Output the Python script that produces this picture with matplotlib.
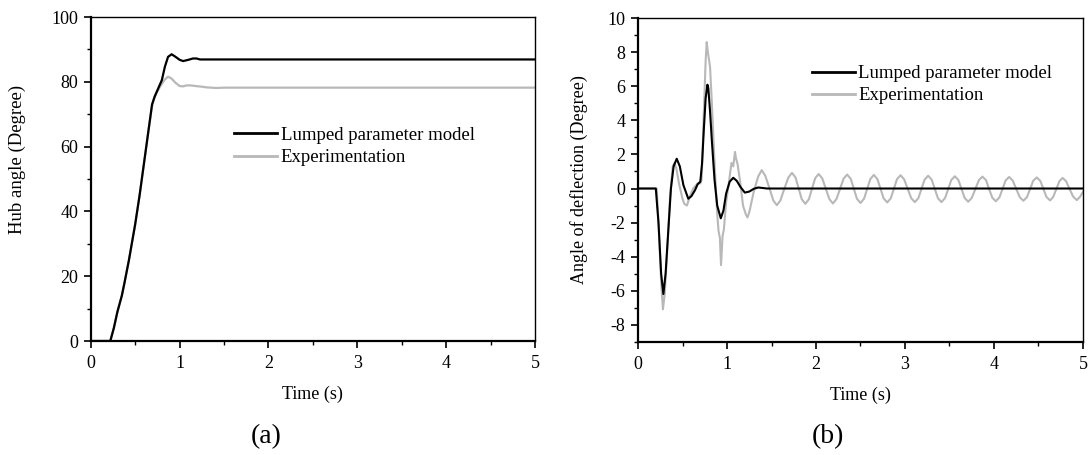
import matplotlib
matplotlib.use("Agg")
import matplotlib.pyplot as plt
from matplotlib.ticker import MultipleLocator
from matplotlib.lines import Line2D

plt.rcParams['font.family'] = ['Liberation Serif', 'DejaVu Serif']
plt.rcParams['axes.unicode_minus'] = False

# ---------------- data: (a) hub angle ----------------
t_hub_model = [0, 0.22, 0.26, 0.30, 0.35, 0.38, 0.43, 0.50, 0.55, 0.60, 0.65, 0.69, 0.72,
               0.76, 0.80, 0.835, 0.87, 0.91, 0.95, 1.00, 1.04, 1.10, 1.15, 1.19, 1.23, 1.30, 5.0]
hub_model = [0, 0, 4, 9, 14, 18, 25, 36, 45, 55, 65, 73, 75.5,
             78, 80.5, 84.7, 87.7, 88.5, 87.8, 86.8, 86.4, 86.8, 87.2, 87.2, 86.9, 86.9, 86.9]

t_hub_exp = [0, 0.22, 0.26, 0.30, 0.35, 0.38, 0.43, 0.50, 0.55, 0.60, 0.65, 0.69, 0.71, 0.74,
             0.78, 0.83, 0.87, 0.91, 0.95, 1.00, 1.04, 1.08, 1.12, 1.18, 1.25, 1.30, 1.41, 1.5, 5.0]
hub_exp = [0, 0, 4, 9, 14, 18, 25, 36, 45, 55, 65, 72.5, 74.6, 76.5,
           78.5, 80.6, 81.6, 81.0, 79.8, 78.7, 78.6, 78.9, 78.9, 78.7, 78.5, 78.3, 78.1, 78.2, 78.2]

# ---------------- data: (b) angle of deflection ----------------
t_defl_model = [0, 0.20, 0.23, 0.26, 0.285, 0.31, 0.34, 0.37, 0.40, 0.435, 0.47, 0.51, 0.565,
                0.60, 0.64, 0.67, 0.70, 0.72, 0.74, 0.76, 0.78, 0.79, 0.81, 0.83, 0.86, 0.89,
                0.93, 0.96, 0.99, 1.03, 1.07, 1.11, 1.15, 1.20, 1.25, 1.30, 1.35, 1.45, 5.0]
defl_model = [0, 0, -2, -5, -6.2, -5, -2.5, 0, 1.3, 1.75, 1.3, 0.2, -0.6,
              -0.45, -0.1, 0.25, 0.4, 1.5, 3.5, 5.3, 6.1, 5.9, 4.5, 2.8, 0.5, -1.0,
              -1.75, -1.3, -0.3, 0.4, 0.63, 0.45, 0.1, -0.24, -0.18, -0.02, 0.06, 0.0, 0.0]

t_defl_exp = [0, 0.21, 0.235, 0.26, 0.28, 0.30, 0.33, 0.36, 0.39, 0.41, 0.43, 0.46, 0.50, 0.52,
              0.55, 0.58, 0.62, 0.67, 0.70, 0.715, 0.74, 0.76, 0.772, 0.785, 0.80, 0.81, 0.83,
              0.86, 0.89, 0.905, 0.92, 0.933, 0.95, 0.965, 0.99, 1.02, 1.05, 1.07, 1.09, 1.10,
              1.12, 1.15, 1.18, 1.21, 1.23, 1.25, 1.30, 1.35,
              1.39, 1.43, 1.475, 1.52, 1.56, 1.60, 1.645, 1.69, 1.73, 1.77, 1.805, 1.84,
              1.88, 1.92, 1.955, 1.99, 2.03, 2.07, 2.11, 2.15, 2.19, 2.23, 2.27, 2.31,
              2.35, 2.39, 2.425, 2.46, 2.50, 2.54, 2.575, 2.61, 2.65, 2.69, 2.725, 2.76,
              2.80, 2.84, 2.875, 2.91, 2.95, 2.99, 3.03, 3.07, 3.11, 3.15, 3.185, 3.22,
              3.26, 3.30, 3.335, 3.37, 3.41, 3.45, 3.485, 3.52, 3.56, 3.60, 3.635, 3.67,
              3.71, 3.75, 3.79, 3.83, 3.87, 3.91, 3.945, 3.98, 4.02, 4.06, 4.095, 4.13,
              4.17, 4.21, 4.25, 4.29, 4.33, 4.37, 4.405, 4.44, 4.48, 4.52, 4.555, 4.59,
              4.63, 4.665, 4.70, 4.735, 4.77, 4.81, 4.85, 4.89, 4.93, 4.965, 5.00]
defl_exp = [0, 0, -2.5, -5.5, -7.1, -6.2, -3.5, -0.5, 1.3, 1.5, 1.2, 0.3, -0.6, -0.9,
            -1.0, -0.5, 0.0, 0.3, 0.3, 0.5, 4.5, 7.5, 8.6, 8.0, 7.5, 7.1, 5.0,
            1.5, -1.5, -2.5, -2.9, -4.5, -2.8, -2.4, -0.8, 0.3, 1.5, 1.3, 2.15, 1.8,
            1.4, 0.3, -1.0, -1.5, -1.7, -1.4, -0.2, 0.7,
            1.08, 0.75, 0.05, -0.7, -0.98, -0.7, 0.0, 0.65, 0.92, 0.65, 0.0, -0.63,
            -0.9, -0.63, -0.02, 0.6, 0.85, 0.6, -0.02, -0.62, -0.88, -0.62, -0.02, 0.58,
            0.82, 0.57, -0.02, -0.6, -0.85, -0.6, -0.03, 0.55, 0.80, 0.55, -0.02, -0.58,
            -0.82, -0.58, -0.02, 0.55, 0.78, 0.54, -0.02, -0.57, -0.80, -0.57, -0.03, 0.52,
            0.75, 0.52, -0.03, -0.57, -0.80, -0.56, -0.04, 0.5, 0.72, 0.5, -0.03, -0.55,
            -0.78, -0.55, -0.04, 0.49, 0.70, 0.49, -0.03, -0.53, -0.75, -0.53, -0.04, 0.47,
            0.68, 0.47, -0.03, -0.51, -0.72, -0.51, -0.04, 0.45, 0.65, 0.45, -0.03, -0.5,
            -0.70, -0.5, -0.04, 0.43, 0.62, 0.43, -0.04, -0.48, -0.68, -0.5, -0.2]

series_labels = ["Lumped parameter model", "Experimentation"]
panel_labels = ["(a)", "(b)"]
ylabels = ["Hub angle (Degree)", "Angle of deflection (Degree)"]
xlabel = "Time (s)"

BLACK = "#000000"
GRAY = "#b8b8b8"

fig = plt.figure(figsize=(10.88, 4.55), dpi=100)
ax1 = fig.add_axes([0.0834, 0.2505, 0.4083, 0.7121])
ax2 = fig.add_axes([0.5864, 0.2490, 0.4090, 0.7108])

TICK_FS = 13
LABEL_FS = 13
LEG_FS = 13.5


def style(ax, ymaj, ymin):
    ax.xaxis.set_major_locator(MultipleLocator(1))
    ax.xaxis.set_minor_locator(MultipleLocator(0.5))
    ax.yaxis.set_major_locator(MultipleLocator(ymaj))
    ax.yaxis.set_minor_locator(MultipleLocator(ymin))
    ax.tick_params(which='major', direction='out', length=5, width=1.2,
                   labelsize=TICK_FS, top=False, right=False)
    ax.tick_params(which='minor', direction='out', length=3, width=1.0,
                   top=False, right=False)
    ax.tick_params(axis='x', which='major', pad=5)
    ax.tick_params(axis='y', which='major', pad=4)
    for side in ['left', 'bottom']:
        ax.spines[side].set_linewidth(1.6)
    for side in ['top', 'right']:
        ax.spines[side].set_linewidth(1.0)


# panel (a)
ax1.plot(t_hub_exp, hub_exp, color=GRAY, lw=1.6)
ax1.plot(t_hub_model, hub_model, color=BLACK, lw=1.6)
ax1.set_xlim(0, 5)
ax1.set_ylim(0, 100)
style(ax1, 20, 10)
ax1.set_xlabel(xlabel, fontsize=LABEL_FS, labelpad=10)
ax1.set_ylabel(ylabels[0], fontsize=13.5)
ax1.yaxis.set_label_coords(-0.145, 0.56)

# panel (b)
ax2.plot(t_defl_exp, defl_exp, color=GRAY, lw=1.5)
ax2.plot(t_defl_model, defl_model, color=BLACK, lw=1.5)
ax2.set_xlim(0, 5)
ax2.set_ylim(-9, 10)
style(ax2, 2, 1)
ax2.set_xlabel(xlabel, fontsize=LABEL_FS, labelpad=10)
ax2.set_ylabel(ylabels[1], fontsize=LABEL_FS, labelpad=14)

handles = [Line2D([], [], color=BLACK, lw=2.0), Line2D([], [], color=GRAY, lw=2.0)]
for ax, anchor in [(ax1, (0.322, 0.661)), (ax2, (0.39, 0.855))]:
    ax.legend(handles, series_labels, loc='upper left', bbox_to_anchor=anchor,
              frameon=False, fontsize=LEG_FS, handlelength=2.3, handletextpad=0.2,
              labelspacing=0.27, borderpad=0, borderaxespad=0)

fig.text(266 / 1088, 1 - 437 / 455, panel_labels[0], fontsize=20, ha='center', va='center')
fig.text(828 / 1088, 1 - 437 / 455, panel_labels[1], fontsize=20, ha='center', va='center')

fig.savefig("out.png", dpi=100)
